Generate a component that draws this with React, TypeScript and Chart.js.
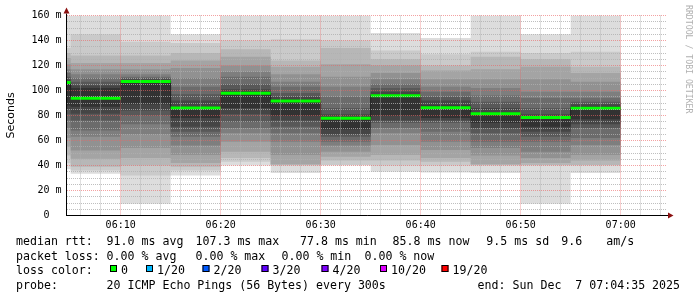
import React, { useEffect, useRef } from 'react';
import { Chart, registerables } from 'chart.js';

Chart.register(...registerables);

// ---------- data ----------
const stepTimes = ['06:05', '06:10', '06:15', '06:20', '06:25', '06:30', '06:35', '06:40', '06:45', '06:50', '06:55', '07:00'];
const medianRtt = [106.4, 93.8, 107.3, 86.0, 97.8, 91.6, 77.8, 95.9, 86.3, 81.5, 78.5, 85.8];

// 20 sorted ping RTTs (ms) per 5-minute step
const pings0605 = [37, 42, 48, 55, 62, 70, 76, 81, 85, 88, 107, 109, 111, 114, 117, 121, 126, 130, 134, 165];
const pings0610 = [33.5, 36, 39, 45.5, 52, 63, 68, 76, 81.5, 87, 102, 104, 107, 110, 113, 117, 122, 128, 145, 165];
const pings0615 = [9.5, 32, 40, 46, 54, 65, 73, 80, 84, 89, 108, 109, 110, 111, 113, 117, 122, 128, 139, 165];
const pings0620 = [32, 36, 39, 42, 48.5, 56, 63, 67, 71, 78, 87, 92, 97, 103, 110, 118, 124, 130, 138, 145];
const pings0625 = [40, 43, 46, 51, 59, 66, 70, 75, 81, 86, 99, 101, 105, 111, 115, 120, 127, 133, 140, 165];
const pings0630 = [34, 40, 40.5, 41, 48.5, 59, 66, 71, 76, 80, 93, 95, 98, 103, 107, 113, 119, 124, 141, 165];
const pings0635 = [40, 40.5, 44, 47, 51, 56, 59, 63, 65, 69, 78.5, 81, 86, 95, 103, 111, 121, 134, 140, 165];
const pings0640 = [35, 40, 44, 48.5, 56.5, 66, 70, 74, 76, 80, 97, 99, 102, 105, 109, 114, 120, 125, 132, 146];
const pings0645 = [34.5, 40, 43, 46, 52.5, 59, 67, 74, 76, 78, 88, 92, 95, 99, 103, 109, 116, 120, 129, 142];
const pings0650 = [34, 40, 40.5, 41, 48, 54, 59, 66, 70, 74, 82.5, 86, 91, 96, 102, 109, 117, 127, 131, 165];
const pings0655 = [9.5, 40, 40.5, 42, 46, 51, 59, 63, 67, 71, 79.5, 81, 86, 94, 99, 109, 119, 125, 130, 145];
const pings0700 = [34, 40, 40.5, 44, 48.5, 56.5, 62, 70, 73, 77, 87, 89, 91, 94, 99, 107, 114, 119, 131, 165];
const smokePings = [pings0605, pings0610, pings0615, pings0620, pings0625, pings0630, pings0635, pings0640, pings0645, pings0650, pings0655, pings0700];

const rangeStart = '06:04:35';
const rangeEnd = '07:04:35';
const yMin = 0;
const yMax = 160;
const yStep = 5;
const yLabelEvery = 20;
const xGridMinutes = 2;
const xLabelEvery = 10;

const legendMedian = ['median rtt:', '91.0 ms avg', '107.3 ms max', '77.8 ms min', '85.8 ms now', '9.5 ms sd', '9.6', 'am/s'];
const legendLoss = ['packet loss:', '0.00 % avg', '0.00 % max', '0.00 % min', '0.00 % now'];
const lossTitle = 'loss color:';
const lossLabels = ['0', '1/20', '2/20', '3/20', '4/20', '10/20', '19/20'];
const lossColors = ['#00ff00', '#00b8ff', '#0059ff', '#5e00ff', '#7e00ff', '#dd00ff', '#ff0000'];
const probeLine = ['probe:', '20 ICMP Echo Pings (56 Bytes) every 300s', 'end: Sun Dec  7 07:04:35 2025'];
const sideTitle = 'RRDTOOL / TOBI OETIKER';

// ---------- helpers ----------
const toMin = (s: string) => {
  const [h, m, sec] = s.split(':');
  return Number(h) * 60 + Number(m) + (sec ? Number(sec) / 60 : 0) - 360;
};
const STEP = 5;
const stepX = stepTimes.map(toMin);

function stepSeries(vals: number[]) {
  const pts: { x: number; y: number | null }[] = vals.map((y, i) => ({ x: stepX[i] - STEP, y }));
  pts.push({ x: stepX[stepX.length - 1], y: vals[vals.length - 1] });
  return pts;
}
function segmentSeries(vals: number[]) {
  const pts: { x: number; y: number | null }[] = [];
  vals.forEach((y, i) => {
    pts.push({ x: stepX[i] - STEP, y });
    pts.push({ x: stepX[i], y });
    pts.push({ x: stepX[i], y: null });
  });
  return pts;
}
const shade = (k: number) => {
  const c = Math.floor((190 / 10) * (10 - k)) + 50;
  return `rgb(${c},${c},${c})`;
};
const pad2 = (n: number) => String(n).padStart(2, '0');

const MONO = '"DejaVu Sans Mono", monospace';
const MINOR = 'rgba(175,175,175,0.8)';
const MAJOR = 'rgba(235,100,100,0.6)';

const decor = {
  id: 'decor',
  afterDraw(chart: any) {
    const { ctx, chartArea: a } = chart;
    ctx.save();
    // axes
    ctx.strokeStyle = '#000';
    ctx.lineWidth = 1;
    ctx.beginPath();
    ctx.moveTo(a.left, a.bottom + 0.5);
    ctx.lineTo(a.left, a.top - 2);
    ctx.moveTo(a.left - 0.5, a.bottom);
    ctx.lineTo(a.right + 2, a.bottom);
    ctx.stroke();
    // arrows
    ctx.fillStyle = '#8b1010';
    ctx.beginPath();
    ctx.moveTo(a.left - 3, a.top - 2);
    ctx.lineTo(a.left + 3, a.top - 2);
    ctx.lineTo(a.left, a.top - 8);
    ctx.closePath();
    ctx.fill();
    ctx.beginPath();
    ctx.moveTo(a.right + 1.5, a.bottom - 3);
    ctx.lineTo(a.right + 1.5, a.bottom + 3);
    ctx.lineTo(a.right + 7, a.bottom);
    ctx.closePath();
    ctx.fill();

    // side title
    ctx.save();
    ctx.translate(688.5, 5);
    ctx.rotate(Math.PI / 2);
    ctx.font = `8.2px ${MONO}`;
    ctx.fillStyle = '#b0b0b0';
    ctx.textBaseline = 'middle';
    ctx.textAlign = 'left';
    ctx.fillText(sideTitle, 0, 0);
    ctx.restore();

    // legend
    ctx.font = `11.6px ${MONO}`;
    ctx.fillStyle = '#000';
    ctx.textBaseline = 'alphabetic';
    ctx.textAlign = 'left';
    const medX = [16, 106.6, 195.5, 300, 392.6, 486.3, 561.2, 606.3];
    legendMedian.forEach((t, i) => ctx.fillText(t, medX[i], 245));
    const lossX = [16, 106.6, 195.5, 281.5, 364.5];
    legendLoss.forEach((t, i) => ctx.fillText(t, lossX[i], 259.5));
    ctx.fillText(lossTitle, 16, 274);
    const boxX = [110, 146, 202.5, 261.5, 321.5, 380, 441.5];
    lossLabels.forEach((t, i) => {
      ctx.fillStyle = lossColors[i];
      ctx.fillRect(boxX[i], 265, 7, 7);
      ctx.strokeStyle = '#000';
      ctx.strokeRect(boxX[i] + 0.5, 265.5, 6, 6);
      ctx.fillStyle = '#000';
      ctx.fillText(t, boxX[i] + 11, 274);
    });
    ctx.fillText(probeLine[0], 16, 288.5);
    ctx.fillText(probeLine[1], 106.6, 288.5);
    ctx.fillText(probeLine[2], 477.6, 288.5);
    ctx.restore();
  },
};

export default function App() {
  const ref = useRef<HTMLCanvasElement | null>(null);

  useEffect(() => {
    document.body.style.margin = '0';
    const canvas = ref.current;
    if (!canvas) return;

    const datasets: any[] = [];
    datasets.push({
      label: 'median',
      data: segmentSeries(medianRtt),
      borderColor: '#00ff00',
      borderWidth: 3,
      borderCapStyle: 'butt',
      pointRadius: 0,
      spanGaps: false,
      fill: false,
    });
    datasets.push({
      label: 'median-step',
      data: stepSeries(medianRtt),
      stepped: 'before',
      borderColor: '#202020',
      borderWidth: 1,
      pointRadius: 0,
      fill: false,
    });
    // lower smoke edges (darkest first in index => drawn last)
    for (let idx = 2; idx <= 11; idx++) {
      const k = 12 - idx;
      datasets.push({
        label: 'lo' + k,
        data: stepSeries(smokePings.map((p) => p[k - 1])),
        stepped: 'before',
        borderWidth: 0,
        borderColor: 'rgba(0,0,0,0)',
        pointRadius: 0,
        backgroundColor: shade(k),
        fill: 11 + k,
      });
    }
    // upper smoke edges
    for (let idx = 12; idx <= 21; idx++) {
      const k = idx - 11;
      datasets.push({
        label: 'hi' + k,
        data: stepSeries(smokePings.map((p) => p[20 - k])),
        stepped: 'before',
        borderWidth: 0,
        borderColor: 'rgba(0,0,0,0)',
        pointRadius: 0,
        fill: false,
      });
    }

    const xMin = toMin(rangeStart);
    const xMax = toMin(rangeEnd);

    const chart = new Chart(canvas, {
      type: 'line',
      data: { datasets },
      plugins: [decor],
      options: {
        animation: false,
        responsive: false,
        devicePixelRatio: 1,
        events: [],
        layout: { padding: { left: 0, right: 30.5, top: 15.5, bottom: 0 } },
        plugins: {
          legend: { display: false },
          tooltip: { enabled: false },
          filler: { propagate: false },
        },
        scales: {
          x: {
            type: 'linear',
            min: xMin,
            max: xMax,
            afterFit: (s: any) => {
              s.height = 81.5;
            },
            afterBuildTicks: (s: any) => {
              const t: { value: number }[] = [];
              for (let v = Math.ceil(xMin / xGridMinutes) * xGridMinutes; v <= xMax; v += xGridMinutes) t.push({ value: v });
              s.ticks = t;
            },
            ticks: {
              autoSkip: false,
              maxRotation: 0,
              minRotation: 0,
              padding: 3.5,
              color: '#000',
              font: { family: MONO, size: 10 },
              callback: (v: any) => {
                const m = Math.round(Number(v));
                if (m % xLabelEvery !== 0) return '';
                const total = 360 + m;
                return `${pad2(Math.floor(total / 60))}:${pad2(total % 60)}`;
              },
            },
            grid: {
              z: 1,
              drawTicks: false,
              lineWidth: 1,
              color: (c: any) => (Math.round(c.tick.value) % xLabelEvery === 0 ? MAJOR : MINOR),
            },
            border: { display: false, dash: [1, 1] },
          },
          y: {
            type: 'linear',
            min: yMin,
            max: yMax,
            afterFit: (s: any) => {
              s.width = 66.5;
            },
            afterBuildTicks: (s: any) => {
              const t: { value: number }[] = [];
              for (let v = yMin; v <= yMax; v += yStep) t.push({ value: v });
              s.ticks = t;
            },
            ticks: {
              autoSkip: false,
              padding: 5,
              color: '#000',
              font: { family: MONO, size: 10 },
              callback: (v: any) => {
                const n = Math.round(Number(v));
                if (n % yLabelEvery !== 0) return '';
                return n === 0 ? '0  ' : `${n} m`;
              },
            },
            grid: {
              z: 1,
              drawTicks: false,
              lineWidth: 1,
              color: (c: any) => (Math.round(c.tick.value) % yLabelEvery === 0 ? MAJOR : MINOR),
            },
            border: { display: false, dash: [1, 1] },
            title: {
              display: true,
              text: 'Seconds',
              color: '#000',
              font: { family: '"DejaVu Sans", sans-serif', size: 11 },
              padding: { top: 4.4, bottom: 0 },
            },
          },
        },
      },
    } as any);

    return () => chart.destroy();
  }, []);

  return (
    <div style={{ position: 'absolute', left: 0, top: 0, width: 697, height: 297, background: '#fff' }}>
      <canvas ref={ref} width={697} height={297} style={{ display: 'block', width: 697, height: 297 }} />
    </div>
  );
}
